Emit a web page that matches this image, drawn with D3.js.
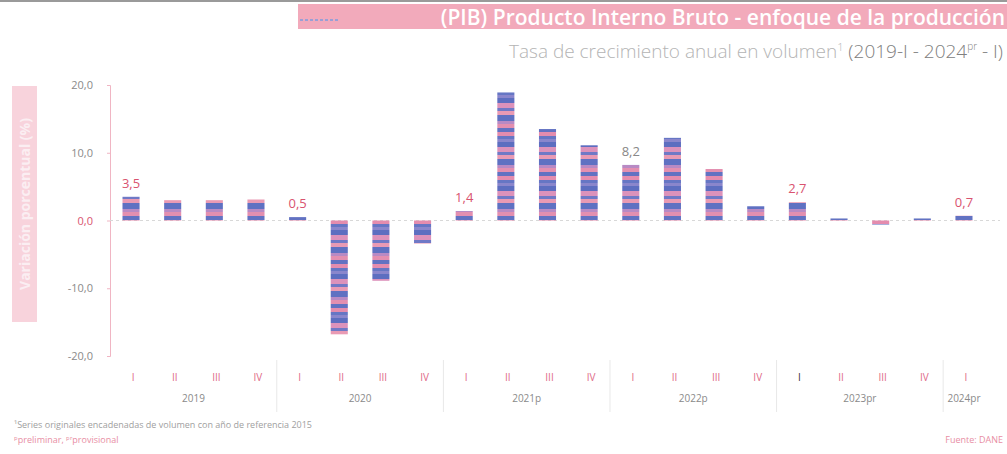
<!DOCTYPE html>
<html>
<head>
<meta charset="utf-8">
<script src="https://cdn.jsdelivr.net/npm/d3@7"></script>
<style>
  body { margin: 0; background: #fff; }
  text { font-family: "Open Sans", "DejaVu Sans", sans-serif; }
</style>
</head>
<body>
<script>
// chart data
var years = ["2019", "2020", "2021p", "2022p", "2023pr", "2024pr"];
var quarters = ["I", "II", "III", "IV", "I", "II", "III", "IV", "I", "II", "III", "IV",
                "I", "II", "III", "IV", "I", "II", "III", "IV", "I"];
var yearOf = [0, 0, 0, 0, 1, 1, 1, 1, 2, 2, 2, 2, 3, 3, 3, 3, 4, 4, 4, 4, 5];
var values = [3.5, 3.0, 3.0, 3.1, 0.5, -16.8, -8.9, -3.4, 1.4, 18.9, 13.5, 11.1,
              8.2, 12.2, 7.6, 2.1, 2.7, 0.3, -0.6, 0.3, 0.7];
var labelled = [0, 4, 8, 12, 16, 20];
var yTicks = [20, 10, 0, -10, -20];

var W = 1007, H = 454;
var svg = d3.select("body").append("svg").attr("width", W).attr("height", H);

// striped fill for the bars
var defs = svg.append("defs");
var pat = defs.append("pattern").attr("id", "stripes")
  .attr("patternUnits", "userSpaceOnUse")
  .attr("width", 20).attr("height", 44);
var bands = [["#e48cae", 0, 4], ["#6676c4", 4, 3], ["#8a86cc", 7, 3], ["#5d6ec0", 10, 5],
             ["#dc92bb", 15, 5], ["#7079c6", 20, 3], ["#e99ab4", 23, 4], ["#5f71c2", 27, 6],
             ["#b88ac4", 33, 3], ["#e38fb0", 36, 4], ["#6272c2", 40, 4]];
bands.forEach(function(b) {
  pat.append("rect").attr("x", 0).attr("y", b[1]).attr("width", 20).attr("height", b[2]).attr("fill", b[0]);
});

var x = d3.scaleBand().domain(d3.range(values.length)).range([110, 985]).paddingInner(0.59).paddingOuter(0.3);
var y = d3.scaleLinear().domain([-20, 20]).range([356, 85]);

// top rule
svg.append("rect").attr("x", 0).attr("y", 0).attr("width", W).attr("height", 2).attr("fill", "#9a9a9a");

// title band
svg.append("rect").attr("x", 298).attr("y", 4).attr("width", W - 298).attr("height", 25).attr("fill", "#f2aabb");
svg.append("line").attr("x1", 300).attr("x2", 340).attr("y1", 20).attr("y2", 20)
  .attr("stroke", "#9a9fd6").attr("stroke-width", 2).attr("stroke-dasharray", "3,2");
svg.append("text").attr("x", 1005).attr("y", 25).attr("text-anchor", "end")
  .attr("font-size", 21).attr("font-weight", 600).attr("fill", "#fff")
  .text("(PIB) Producto Interno Bruto - enfoque de la producción");

// subtitle
var sub = svg.append("text").attr("x", 1003).attr("y", 58).attr("text-anchor", "end")
  .attr("font-size", 19).attr("font-weight", 300).attr("fill", "#b4b4b4");
sub.append("tspan").text("Tasa de crecimiento anual en volumen");
sub.append("tspan").attr("font-size", 11).attr("dy", -7).text("1");
sub.append("tspan").attr("dy", 7).attr("fill", "#808080").text(" (2019-I - 2024");
sub.append("tspan").attr("font-size", 10).attr("dy", -8).attr("fill", "#808080").text("pr");
sub.append("tspan").attr("dy", 8).attr("fill", "#808080").text(" - I)");

// y-axis label band
svg.append("rect").attr("x", 12).attr("y", 86).attr("width", 25).attr("height", 236).attr("fill", "#f8d3dc");
svg.append("text").attr("transform", "translate(30,204) rotate(-90)").attr("text-anchor", "middle")
  .attr("font-size", 14).attr("font-weight", "bold").attr("fill", "#fbeef2")
  .text("Variación porcentual (%)");

// y axis
var yAxis = svg.append("g").attr("transform", "translate(110,0)")
  .call(d3.axisLeft(y).tickValues(yTicks).tickSize(3).tickFormat(function(d) {
    return d3.format(".1f")(d).replace(".", ",").replace("−", "-");
  }));
yAxis.select(".domain").attr("stroke", "#f0b5c3");
yAxis.selectAll(".tick line").attr("stroke", "#f0b5c3");
yAxis.selectAll(".tick text").attr("x", -17).attr("font-size", 11)
  .attr("font-family", "Open Sans, sans-serif")
  .attr("fill", function(d) { return d === 0 ? "#d9536f" : "#8a8a8a"; });

// zero line
svg.append("line").attr("x1", 110).attr("x2", 1000).attr("y1", y(0)).attr("y2", y(0))
  .attr("stroke", "#d8d8d8").attr("stroke-dasharray", "3,3");

// bars
svg.selectAll("rect.bar").data(values).enter().append("rect").attr("class", "bar")
  .attr("x", function(d, i) { return x(i); })
  .attr("width", x.bandwidth())
  .attr("y", function(d) { return y(Math.max(0, d)); })
  .attr("height", function(d) { return Math.max(1.5, Math.abs(y(d) - y(0))); })
  .attr("fill", "url(#stripes)");

// value labels
svg.selectAll("text.val").data(labelled).enter().append("text").attr("class", "val")
  .attr("x", function(i) { return x(i) + x.bandwidth() / 2; })
  .attr("y", function(i) { return y(values[i]) - 9; })
  .attr("text-anchor", "middle").attr("font-size", 13)
  .attr("fill", function(i) { return i === 12 ? "#888" : "#d9536f"; })
  .text(function(i) { return d3.format(".1f")(values[i]).replace(".", ","); });

// quarter labels
svg.selectAll("text.q").data(quarters).enter().append("text").attr("class", "q")
  .attr("x", function(d, i) { return x(i) + x.bandwidth() / 2 + 2; })
  .attr("y", 381).attr("text-anchor", "middle").attr("font-size", 10)
  .attr("fill", function(d, i) { return i === 16 ? "#333" : "#e06b88"; })
  .text(function(d) { return d; });

// year separators and labels
years.forEach(function(yr, k) {
  var idx = d3.range(values.length).filter(function(i) { return yearOf[i] === k; });
  var first = idx[0], last = idx[idx.length - 1];
  var cx = (x(first) + x(last) + x.bandwidth()) / 2;
  svg.append("text").attr("x", cx).attr("y", 402).attr("text-anchor", "middle")
    .attr("font-size", 10).attr("fill", "#8a8a8a").text(yr);
  if (k > 0) {
    var sx = x(first) - x.step() * x.paddingInner() / 2;
    svg.append("line").attr("x1", sx).attr("x2", sx).attr("y1", 360).attr("y2", 412)
      .attr("stroke", "#e8e8e8");
  }
});

// footnotes
svg.append("text").attr("x", 14).attr("y", 428).attr("font-size", 9).attr("fill", "#a0a0a0")
  .text("¹Series originales encadenadas de volumen con año de referencia 2015");
svg.append("text").attr("x", 14).attr("y", 443).attr("font-size", 9).attr("fill", "#e88ea4")
  .text("ᵖpreliminar, ᵖʳprovisional");
svg.append("text").attr("x", 1003).attr("y", 443).attr("text-anchor", "end").attr("font-size", 9)
  .attr("fill", "#e88ea4").text("Fuente: DANE");
</script>
</body>
</html>
